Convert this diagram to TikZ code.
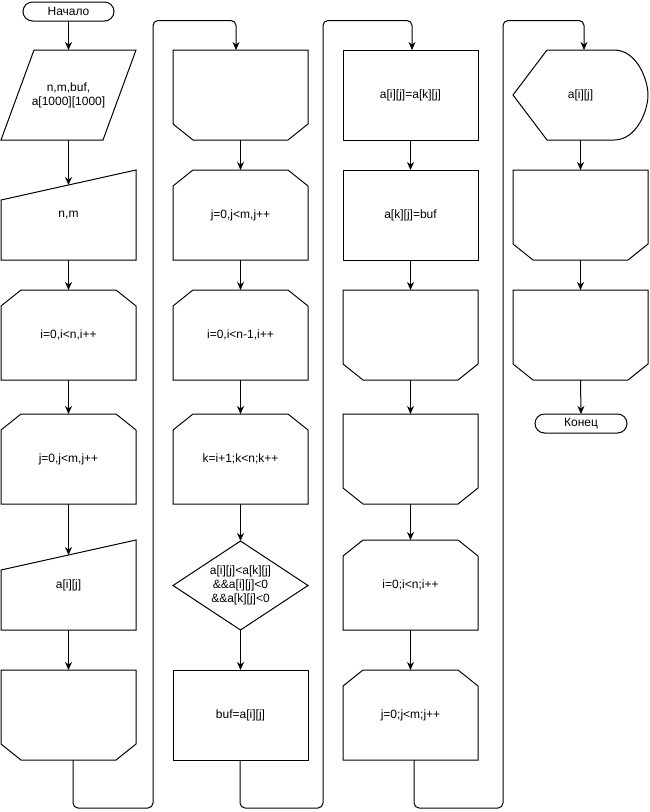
\documentclass[tikz,border=0pt]{standalone}
\usepackage{fontspec}
\setmainfont{Liberation Sans}
\usetikzlibrary{arrows.meta}
\newcommand\fs{\fontsize{12pt}{14pt}\selectfont}
\tikzset{
  box/.style={minimum width=135pt, minimum height=90pt, inner sep=0pt, outer sep=0pt, font=\fs, align=center},
  procbox/.style={box, draw, line width=1pt},
  term/.style={draw, line width=1pt, rounded corners=9.5pt, minimum width=91pt, minimum height=19pt, inner sep=0pt, outer sep=0pt, font=\fs},
  ln/.style={line width=1pt, black, line join=miter},
  arr/.style={ln, -{Stealth[length=8pt,width=7pt,inset=2.5pt]}},
  flow/.style={arr, rounded corners=5pt}
}
% loop start (top corners cut)
\newcommand\loopbeg[4]{\node[box] (#1) at (#2,#3) {#4};
  \draw[ln] (#1.south west) -- (#1.south east) -- ([yshift=-16pt]#1.north east) -- ([xshift=-20pt]#1.north east) -- ([xshift=20pt]#1.north west) -- ([yshift=-16pt]#1.north west) -- cycle;}
% loop end (bottom corners cut)
\newcommand\loopfin[4]{\node[box] (#1) at (#2,#3) {#4};
  \draw[ln] (#1.north west) -- (#1.north east) -- ([yshift=16pt]#1.south east) -- ([xshift=-20pt]#1.south east) -- ([xshift=20pt]#1.south west) -- ([yshift=16pt]#1.south west) -- cycle;}
% manual input
\newcommand\manin[4]{\node[box] (#1) at (#2,#3) {#4};
  \draw[ln] (#1.south west) -- (#1.south east) -- (#1.north east) -- ([yshift=-30pt]#1.north west) -- cycle;
  \coordinate (#1-in) at ([yshift=-15pt]#1.north);}
\begin{document}
\begin{tikzpicture}[x=1pt,y=-1pt]
\useasboundingbox (0,0) rectangle (649,812);

% ---------------- column 1
\node[term] (start) at (68.5,11.5) {Начало};
\node[box] (p1) at (68.5,95) {n,m,buf,\\a[1000][1000]};
\draw[ln] ([xshift=33pt]p1.north west) -- (p1.north east) -- ([xshift=-33pt]p1.south east) -- (p1.south west) -- cycle;
\manin{m1}{68.5}{215}{n,m}
\loopbeg{l1}{68.5}{335}{i=0,i<n,i++}
\loopbeg{l2}{68.5}{459}{j=0,j<m,j++}
\manin{m2}{68.5}{585}{a[i][j]}
\loopfin{e1}{68.5}{715}{}

% ---------------- column 2
\loopfin{e2}{240.5}{95}{}
\loopbeg{l3}{240.5}{215}{j=0,j<m,j++}
\loopbeg{l4}{240.5}{335}{i=0,i<n-1,i++}
\loopbeg{l5}{240.5}{459}{k=i+1;k<n;k++}
\node[box, minimum height=89pt] (d1) at (240.5,585.5) {a[i][j]<a[k][j]\\\&\&a[i][j]<0\\\&\&a[k][j]<0};
\draw[ln] (d1.north) -- (d1.east) -- (d1.south) -- (d1.west) -- cycle;
\node[procbox] (r1) at (240.5,715) {buf=a[i][j]};

% ---------------- column 3
\node[procbox] (r2) at (410.5,95) {a[i][j]=a[k][j]};
\node[procbox] (r3) at (410.5,215) {a[k][j]=buf};
\loopfin{e3}{410.5}{335}{}
\loopfin{e4}{410.5}{459}{}
\loopbeg{l6}{410.5}{585}{i=0;i<n;i++}
\loopbeg{l7}{410.5}{715}{j=0;j<m;j++}

% ---------------- column 4
\node[box] (disp) at (580.5,95) {a[i][j]};
\draw[ln] (disp.west) -- ([xshift=34pt]disp.north west) -- ([xshift=-34pt]disp.north east)
  .. controls ([xshift=-11pt]disp.north east) and ([yshift=-30pt]disp.north east) .. (disp.east)
  .. controls ([yshift=30pt]disp.south east) and ([xshift=-11pt]disp.south east) .. ([xshift=-34pt]disp.south east)
  -- ([xshift=34pt]disp.south west) -- cycle;
\loopfin{e5}{580.5}{215}{}
\loopfin{e6}{580.5}{335}{}
\node[term, minimum width=92pt] (stop) at (581,423.5) {Конец};

% ---------------- vertical connectors
\draw[arr] (start.south) -- (p1.north);
\draw[arr] (p1.south) -- (m1-in);
\draw[arr] (m1.south) -- (l1.north);
\draw[arr] (l1.south) -- (l2.north);
\draw[arr] (l2.south) -- (m2-in);
\draw[arr] (m2.south) -- (e1.north);

\draw[arr] (e2.south) -- (l3.north);
\draw[arr] (l3.south) -- (l4.north);
\draw[arr] (l4.south) -- (l5.north);
\draw[arr] (l5.south) -- (d1.north);
\draw[arr] (d1.south) -- (r1.north);

\draw[arr] (r2.south) -- (r3.north);
\draw[arr] (r3.south) -- (e3.north);
\draw[arr] (e3.south) -- (e4.north);
\draw[arr] (e4.south) -- (l6.north);
\draw[arr] (l6.south) -- (l7.north);

\draw[arr] (disp.south) -- (e5.north);
\draw[arr] (e5.south) -- (e6.north);
\draw[arr] (e6.south) -- (stop.north);

% ---------------- column-to-column connectors
\coordinate (b1) at (153,808);
\coordinate (t1) at (236,20.5);
\coordinate (b2) at (323,808);
\coordinate (t2) at (412,20.5);
\coordinate (b3) at (503,808);
\coordinate (t3) at (584,20.5);
\draw[flow] ([xshift=4.5pt]e1.south) |- (b1) |- (t1) -- ([xshift=-4.5pt]e2.north);
\draw[flow] ([xshift=-0.5pt]r1.south) |- (b2) |- (t2) -- ([xshift=1.5pt]r2.north);
\draw[flow] ([xshift=3.5pt]l7.south) |- (b3) |- (t3) -- ([xshift=3.5pt]disp.north);
\end{tikzpicture}
\end{document}
